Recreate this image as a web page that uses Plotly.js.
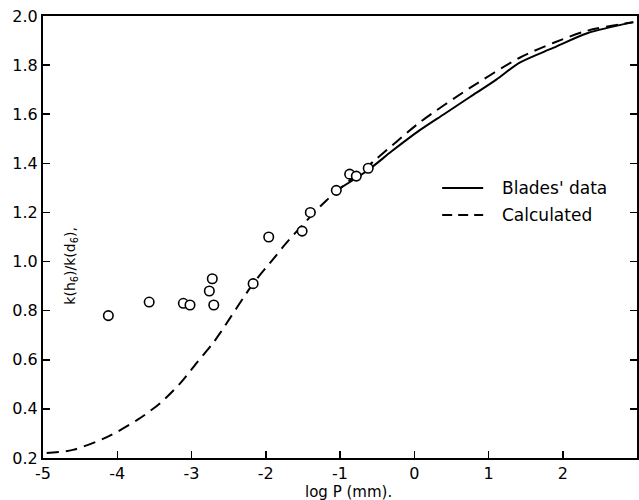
<!DOCTYPE html>
<html>
<head>
<meta charset="utf-8">
<script src="https://cdn.plot.ly/plotly-3.0.1.min.js"></script>
<style>html,body{margin:0;padding:0;background:#fff;}#chart{width:639px;height:500px;}</style>
</head>
<body>
<div id="chart"></div>
<script>
// Observed points (circles)
const obsX = [-4.12, -3.57, -3.11, -3.02, -2.76, -2.72, -2.70, -2.17, -1.96, -1.51, -1.40, -1.05, -0.87, -0.78, -0.62];
const obsY = [0.78, 0.835, 0.83, 0.823, 0.88, 0.93, 0.823, 0.91, 1.10, 1.124, 1.20, 1.29, 1.356, 1.348, 1.38];

// Blades' data (solid line)
const bladesX = [-1.10, -0.62, -0.30, 0.08, 0.40, 0.75, 1.10, 1.42, 1.87, 2.33, 2.95];
const bladesY = [1.28, 1.373, 1.45, 1.536, 1.60, 1.67, 1.74, 1.81, 1.87, 1.93, 1.975];

// Calculated (dashed line)
const calcX = [-4.95, -4.60, -4.14, -3.73, -3.42, -3.15, -2.93, -2.71, -2.59, -2.17, -1.90, -1.71, -1.18, -0.56, 0.08, 0.75, 1.42, 1.87, 2.33, 2.95];
const calcY = [0.22, 0.233, 0.285, 0.355, 0.424, 0.505, 0.587, 0.668, 0.72, 0.91, 1.01, 1.08, 1.25, 1.405, 1.568, 1.707, 1.83, 1.89, 1.94, 1.975];

const xTickVals = [-5, -4, -3, -2, -1, 0, 1, 2, 3];
const xTickText = ['-5', '-4', '-3', '-2', '-1', '0', '1', '2', '3'];
const yTickVals = [0.2, 0.4, 0.6, 0.8, 1.0, 1.2, 1.4, 1.6, 1.8, 2.0];
const yTickText = ['0.2', '0.4', '0.6', '0.8', '1.0', '1.2', '1.4', '1.6', '1.8', '2.0'];

const legendNames = ["Blades' data", 'Calculated'];

const FONT = 'DejaVu Sans, Liberation Sans, sans-serif';

const traces = [
  {x: calcX, y: calcY, mode: 'lines', line: {color: '#000', width: 2, dash: '12px,7px', shape: 'spline', smoothing: 0.8}, hoverinfo: 'skip'},
  {x: bladesX, y: bladesY, mode: 'lines', line: {color: '#000', width: 2, shape: 'spline', smoothing: 0.8}, hoverinfo: 'skip'},
  {x: obsX, y: obsY, mode: 'markers', marker: {symbol: 'circle', size: 9.5, color: '#fff', line: {color: '#000', width: 1.6}}}
];

const layout = {
  width: 639, height: 500,
  margin: {l: 43, r: 2, t: 16, b: 42},
  paper_bgcolor: '#fff', plot_bgcolor: '#fff',
  showlegend: false,
  font: {family: FONT, color: '#000', size: 16},
  xaxis: {
    range: [-5, 3], tickvals: xTickVals, ticktext: xTickText,
    ticks: 'inside', ticklen: 7, tickwidth: 1.5, tickcolor: '#000',
    showline: true, linecolor: '#000', linewidth: 2, mirror: true,
    showgrid: false, zeroline: false,
    tickfont: {family: FONT, size: 16, color: '#000'}
  },
  yaxis: {
    range: [0.2, 2.0], tickvals: yTickVals, ticktext: yTickText,
    ticks: 'inside', ticklen: 7, tickwidth: 1.5, tickcolor: '#000',
    showline: true, linecolor: '#000', linewidth: 2, mirror: 'ticks',
    showgrid: false, zeroline: false,
    tickfont: {family: FONT, size: 16, color: '#000'}
  },
  shapes: [
    {type: 'line', xref: 'paper', yref: 'paper', x0: 0.672, x1: 0.741, y0: 0.611, y1: 0.611, line: {color: '#000', width: 2}},
    {type: 'line', xref: 'paper', yref: 'paper', x0: 0.672, x1: 0.741, y0: 0.550, y1: 0.550, line: {color: '#000', width: 2, dash: '10px,6px'}}
  ],
  annotations: [
    {xref: 'paper', yref: 'paper', x: 0.769, y: 0.611, xanchor: 'left', yanchor: 'middle', text: legendNames[0], showarrow: false, font: {family: FONT, size: 17, color: '#000'}},
    {xref: 'paper', yref: 'paper', x: 0.769, y: 0.550, xanchor: 'left', yanchor: 'middle', text: legendNames[1], showarrow: false, font: {family: FONT, size: 17, color: '#000'}},
    {xref: 'paper', yref: 'paper', x: 0.047, y: 0.435, xanchor: 'center', yanchor: 'middle', textangle: -90, text: 'k(h<sub>6</sub>)/k(d<sub>6</sub>),', showarrow: false, font: {family: FONT, size: 14, color: '#000'}},
    {xref: 'paper', yref: 'paper', x: 0.515, y: -0.076, xanchor: 'center', yanchor: 'middle', text: 'log P (mm).', showarrow: false, font: {family: FONT, size: 15, color: '#000'}}
  ]
};

Plotly.newPlot('chart', traces, layout, {displayModeBar: false, staticPlot: true});
</script>
</body>
</html>
